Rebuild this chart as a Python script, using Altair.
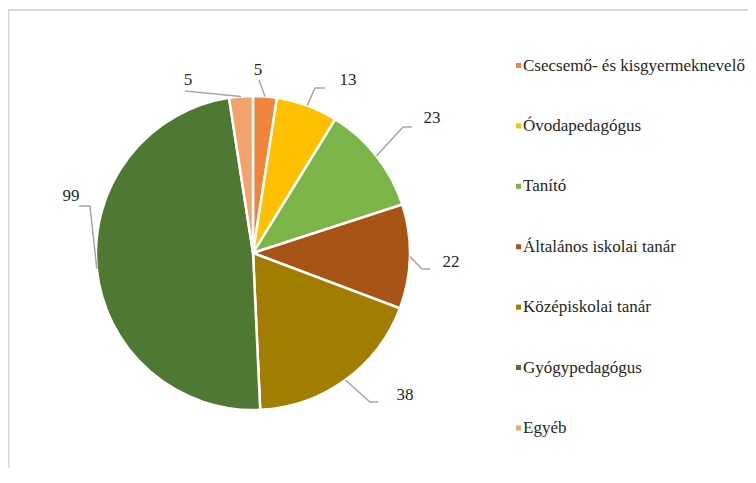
import math
import altair as alt
import pandas as pd

# ---- data ----
categories = ["Csecsemő- és kisgyermeknevelő", "Óvodapedagógus", "Tanító",
              "Általános iskolai tanár", "Középiskolai tanár", "Gyógypedagógus", "Egyéb"]
values = [5, 13, 23, 22, 38, 99, 5]
colors = ["#EE853A", "#FFC000", "#7BB549", "#A75416", "#A17D00", "#4F7833", "#F2A36B"]

# ---- layout of data labels (chart pixels) and leader-line bends relative to label ----
label_x = [250, 340, 424, 443, 397, 63, 180]
label_y = [62, 72, 110, 254, 387, 188, 72]
elbow_dx = [1, -33, -29, -29, -35, 19, -3]
elbow_dy = [10, 8, 9, 7, 7, 10, 11]
end_dx = [1, -23, -20, -21, -27, 8, -3]
end_dy = [10, 8, 9, 7, 7, 10, 11]

W, H = 740, 460
CX, CY, R = 245, 245, 157
FONT = "Liberation Serif"
TXT = "#262626"

df = pd.DataFrame({"cat": categories, "val": values, "idx": list(range(len(values)))})
df["lx"] = label_x
df["ly"] = label_y

total = sum(values)
rows = []
cum = 0
for i, (c, v) in enumerate(zip(categories, values)):
    th = 2 * math.pi * (cum + v / 2) / total
    cum += v
    sx, sy = CX + R * math.sin(th), CY - R * math.cos(th)
    pts = [(sx, sy),
           (label_x[i] + elbow_dx[i], label_y[i] + elbow_dy[i]),
           (label_x[i] + end_dx[i], label_y[i] + end_dy[i])]
    for k, (px, py) in enumerate(pts):
        rows.append({"cat": c, "k": k, "px": px, "py": py})
lead = pd.DataFrame(rows)

pie = alt.Chart(df).mark_arc(outerRadius=R, stroke="white", strokeWidth=2.5).encode(
    theta=alt.Theta("val:Q", stack=True),
    order=alt.Order("idx:Q"),
    color=alt.Color("cat:N", sort=categories,
                    scale=alt.Scale(domain=categories, range=colors),
                    legend=alt.Legend(title=None, orient="none", legendX=502, legendY=49,
                                      symbolType="square", symbolSize=25, symbolStrokeWidth=0,
                                      labelFont=FONT, labelFontSize=17, labelColor=TXT,
                                      rowPadding=42.4, labelOffset={"expr": "-4"},
                                      labelLimit=0, padding=0)),
    x=alt.value(CX), y=alt.value(CY),
)

lines = alt.Chart(lead).mark_line(color="#A6A6A6", strokeWidth=1.5).encode(
    x=alt.X("px:Q", scale=None, axis=None),
    y=alt.Y("py:Q", scale=None, axis=None),
    detail="cat:N",
    order="k:Q",
)

labels = alt.Chart(df).mark_text(font=FONT, fontSize=17, color=TXT,
                                 align="center", baseline="middle").encode(
    x=alt.X("lx:Q", scale=None, axis=None),
    y=alt.Y("ly:Q", scale=None, axis=None),
    text="val:Q",
)

one = pd.DataFrame({"a": [0]})
top_border = alt.Chart(one).mark_rule(color="#D9D9D9", strokeWidth=2).encode(
    x=alt.value(0), x2=alt.value(W), y=alt.value(2))
left_border = alt.Chart(one).mark_rule(color="#D9D9D9", strokeWidth=2).encode(
    x=alt.value(0.5), y=alt.value(1), y2=alt.value(H))

chart = alt.layer(top_border, left_border, pie, lines, labels).properties(
    width=W, height=H, padding=0, autosize=alt.AutoSizeParams(type="none"),
    background="white",
).configure_view(stroke=None)

chart.save("out.html", embed_options={"renderer": "svg", "actions": False})
